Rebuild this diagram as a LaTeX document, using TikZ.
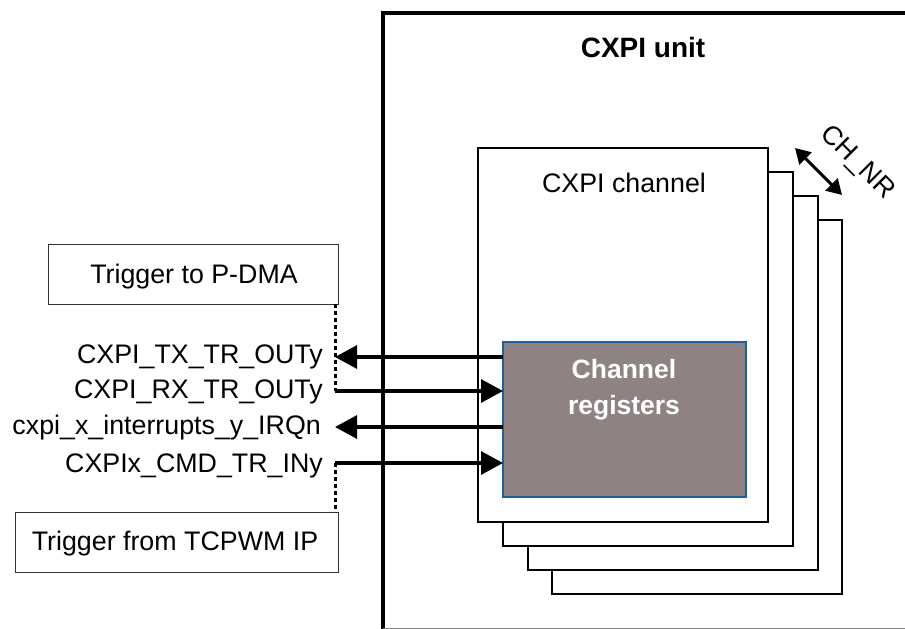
\documentclass[tikz,border=0pt]{standalone}
\usepackage{fontspec}
\setmainfont{Liberation Sans}
\usetikzlibrary{arrows.meta}
\definecolor{regfill}{HTML}{8F8283}
\definecolor{regedge}{HTML}{1F5F9F}
\begin{document}
\begin{tikzpicture}[x=1pt,y=-1pt,
  txt/.style={inner sep=0pt,font=\fontsize{26.8}{32}\selectfont},
  chbox/.style={draw=black,line width=2.2pt,fill=white},
  trigbox/.style={draw=black!80,line width=1pt},
  sig/.style={line width=3.2pt,-{Triangle[length=22pt,width=23pt]}},
  dotline/.style={line width=3pt,dash pattern=on 4pt off 3pt}
]
\useasboundingbox (0,0) rectangle (905,629);
% CXPI unit frame
\draw[line width=4pt] (383,629) -- (383,13) -- (907,13);
\draw[gray,line width=1pt] (383,628) -- (907,628);
\node[txt,font=\fontsize{28}{33}\selectfont\bfseries,anchor=base] (unit) at (643,57) {CXPI unit};
% channel stack
\draw[chbox] (552,220) rectangle (842,594);
\draw[chbox] (528,196) rectangle (818,570);
\draw[chbox] (503,172) rectangle (793,546);
\draw[chbox] (478,148) rectangle (768,522);
\node[txt,anchor=base] (chan) at (624,192) {CXPI channel};
% channel registers
\draw[fill=regfill,draw=regedge,line width=1.5pt] (503,342) rectangle (746,497);
\node[txt,text=white,font=\fontsize{26.5}{32}\selectfont\bfseries,anchor=base] (reg1) at (624,378) {Channel};
\node[txt,text=white,font=\fontsize{26.5}{32}\selectfont\bfseries,anchor=base] (reg2) at (624,414) {registers};
% CH_NR
\coordinate (nrA) at (795,148);
\coordinate (nrB) at (842,195);
\draw[line width=3pt,{Triangle[length=15pt,width=17pt]}-{Triangle[length=15pt,width=17pt]}] (nrA) -- (nrB);
\node[txt,rotate=-45] (chnr) at (857,163) {CH\_NR};
% trigger boxes
\draw[trigbox] (48,244) rectangle (338,304);
\node[txt,anchor=base] (tpdma) at (194,283) {Trigger to P-DMA};
\draw[trigbox] (15,512) rectangle (338,572);
\node[txt,anchor=base] (ttcpwm) at (175,550) {Trigger from TCPWM IP};
% signal labels
\node[txt,anchor=base east] (ltx) at (323,363) {CXPI\_TX\_TR\_OUTy};
\node[txt,anchor=base east] (lrx) at (323,398) {CXPI\_RX\_TR\_OUTy};
\node[txt,anchor=base east] (lirq) at (321,434) {cxpi\_x\_interrupts\_y\_IRQn};
\node[txt,anchor=base east] (lcmd) at (323,472) {CXPIx\_CMD\_TR\_INy};
% endpoints
\coordinate (txL) at (335,357);  \coordinate (txR) at (503,357);
\coordinate (rxL) at (335,391);  \coordinate (rxR) at (503,391);
\coordinate (irqL) at (335,427); \coordinate (irqR) at (503,427);
\coordinate (cmdL) at (335,463); \coordinate (cmdR) at (503,463);
\coordinate (pdmaC) at (335,304);
\coordinate (tcpC) at (335,512);
\draw[sig] (txR) -- (txL);
\draw[sig] (rxL) -- (rxR);
\draw[sig] (irqR) -- (irqL);
\draw[sig] (cmdL) -- (cmdR);
\draw[dotline] (pdmaC) -- (rxL);
\draw[dotline] (cmdL) -- (tcpC);
\end{tikzpicture}
\end{document}
